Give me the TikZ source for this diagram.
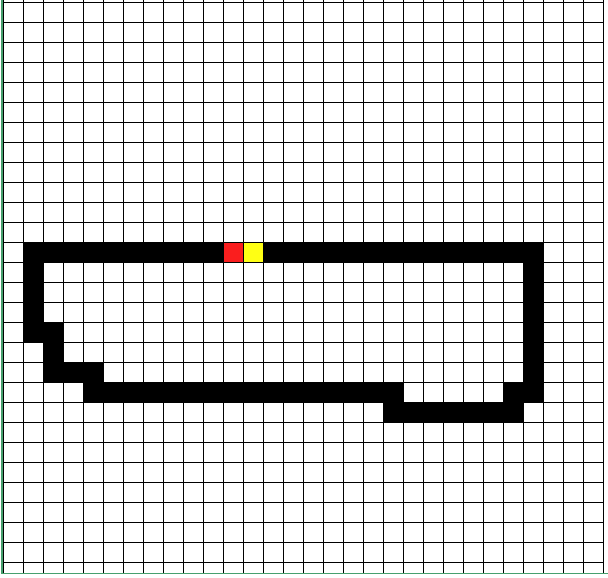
\documentclass[tikz,border=0pt]{standalone}
\definecolor{cellred}{RGB}{250,30,30}
\definecolor{cellyellow}{RGB}{255,255,20}
\definecolor{edgegreen}{RGB}{70,160,110}
\begin{document}
\begin{tikzpicture}[x=1pt,y=-1pt,
  gridline/.style={black,line width=1.5pt},
  wallcell/.style={fill=black},
  edgeline/.style={edgegreen,line width=1.4pt}]
\useasboundingbox (0,0) rectangle (608,578);
\fill[white] (0,0) rectangle (608,578);
% wall cells (col, row)
\foreach \c/\r in {1/12,2/12,3/12,4/12,5/12,6/12,7/12,8/12,9/12,10/12,
  13/12,14/12,15/12,16/12,17/12,18/12,19/12,20/12,21/12,22/12,23/12,24/12,25/12,26/12,
  1/13,1/14,1/15,1/16,2/16,2/17,2/18,3/18,4/18,
  4/19,5/19,6/19,7/19,8/19,9/19,10/19,11/19,12/19,13/19,14/19,15/19,16/19,17/19,18/19,19/19,
  25/19,26/19,
  19/20,20/20,21/20,22/20,23/20,24/20,25/20,
  26/13,26/14,26/15,26/16,26/17,26/18}
  \fill[wallcell] ({3.7+20*\c},{2.7+20*\r}) rectangle +(20,20);
\fill[cellred] ({3.7+20*11},{2.7+20*12}) rectangle +(20,20);
\fill[cellyellow] ({3.7+20*12},{2.7+20*12}) rectangle +(20,20);
% grid
\foreach \k in {0,...,30}
  \draw[gridline] ({3.7+20*\k},0) -- ({3.7+20*\k},573);
\foreach \k in {0,...,28}
  \draw[gridline] (3.7,{2.7+20*\k}) -- (603.7,{2.7+20*\k});
% window edges
\draw[edgeline] (2.0,0) -- (2.0,573.3) -- (608,573.3);
\end{tikzpicture}
\end{document}
